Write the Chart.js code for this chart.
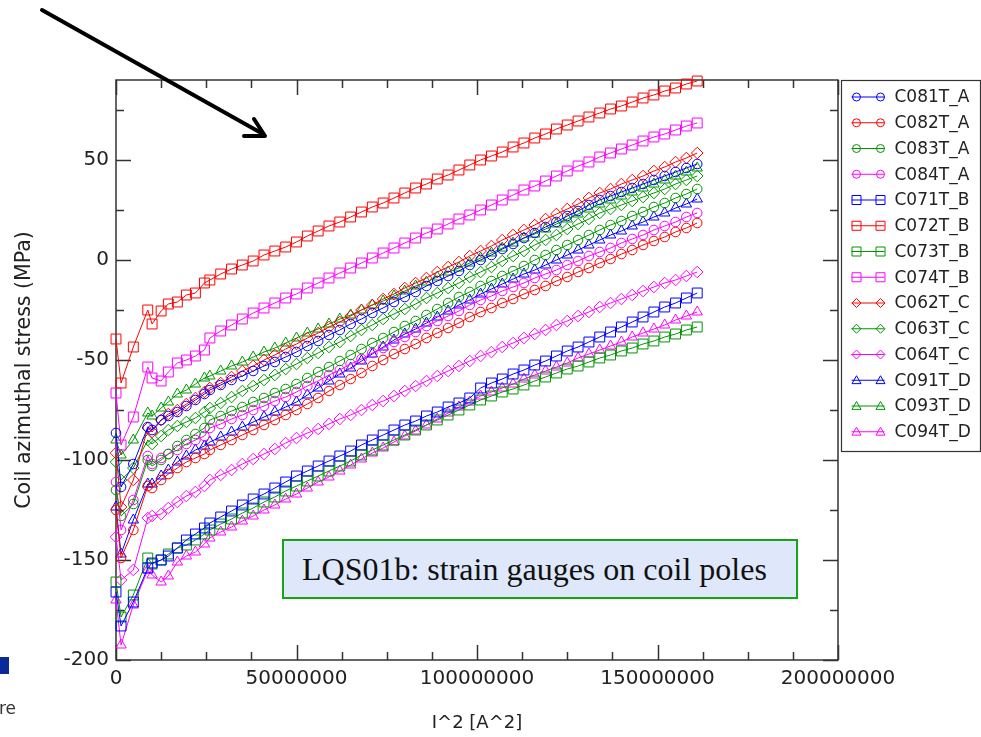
<!DOCTYPE html>
<html>
<head>
<meta charset="utf-8">
<script src="https://cdn.jsdelivr.net/npm/chart.js@4/dist/chart.umd.min.js"></script>
<style>
  body { margin: 0; background: #fff; }
  #wrap { position: relative; width: 981px; height: 737px; overflow: hidden; }
  #note {
    position: absolute; left: 282px; top: 539px; width: 494px; height: 56px;
    background: #dfe8fb; border: 2px solid #16a316;
    font-family: "Liberation Serif", "Times New Roman", serif; font-size: 32px; color: #111;
    display: flex; align-items: center; padding-left: 18px; box-sizing: content-box;
  }
  #blueMark { position: absolute; left: 0; top: 657px; width: 9px; height: 17px; background: #0a2a9c; }
  #cutText { position: absolute; left: -1px; top: 698px; font-family: "DejaVu Sans", sans-serif; font-size: 17px; color: #333; }
</style>
</head>
<body>
<div id="wrap">
  <canvas id="stressChart" width="981" height="737"></canvas>
  <div id="blueMark"></div>
  <div id="cutText">re</div>
  <div id="note">LQS01b: strain gauges on coil poles</div>
</div>
<script>
// ===== I^2 values (A^2) =====
const iSquared = [0, 1.4e6, 4.8e6, 8.8e6, 10e6, 12.5e6, 14.5e6, 17e6, 19.5e6, 22e6, 24.5e6,
    26e6, 29e6, 32e6, 35e6, 38e6, 41e6, 44e6, 47e6, 50e6, 53e6, 56e6, 59e6, 62e6, 65e6, 68e6,
    71e6, 74e6, 77e6, 80e6, 83e6, 86e6, 89e6, 92e6, 95e6, 98e6, 101e6, 104e6, 107e6, 110e6,
    113e6, 116e6, 119e6, 122e6, 125e6, 128e6, 131e6, 134e6, 137e6, 140e6, 143e6, 146e6, 149e6,
    152e6, 155e6, 158e6, 161e6];

// ===== Coil azimuthal stress (MPa), one array per gauge =====
const c081T_A = [-86.5, -113.5, -102, -83.5, -85, -80, -78, -76, -73, -70, -67,
    -65, -62.5, -60, -58, -55.5, -53, -51, -48.5, -46,
    -43, -40.5, -37.5, -35, -32, -29.5, -26.5, -24, -21,
    -18.5, -16, -13, -10.5, -8, -5.5, -2.5, 0,
    2.5, 5.5, 8, 11, 13.5, 16.5, 19, 22, 24.5, 27.5, 30,
    32, 34, 36, 38, 40, 42, 44, 46, 48];
const c082T_A = [-125, -149, -135, -113, -114, -110, -107, -104, -101, -99, -97,
    -95, -92.5, -90, -87.5, -85, -82.5, -80, -77.5, -75,
    -72, -69, -65.5, -62.5, -59.5, -56.5, -53, -50, -47,
    -44.5, -42, -39, -36.5, -34, -31.5, -28.5, -26,
    -24, -21.5, -19.5, -17, -15, -13, -10.5, -8.5, -6, -4, -1.5,
    0.5, 3, 5, 7.5, 9.5, 11.5, 14, 16, 18.5];
const c083T_A = [-115, -128, -122, -100, -103, -100, -97, -93, -90, -87, -84,
    -80, -78, -75.5, -73.5, -71, -69, -66.5, -64.5, -62,
    -59, -56, -53.5, -50.5, -47.5, -44.5, -41.5, -39, -36,
    -33, -30.5, -27.5, -24.5, -21.5, -18.5, -16, -13,
    -10.5, -8, -5.5, -3, 0, 2.5, 5, 7.5, 10, 12.5, 15,
    17.5, 19.5, 22, 24, 26.5, 28.5, 31, 33, 35.5];
const c084T_A = [-111, -135, -120, -98, -102, -99, -97, -95, -92, -90, -88,
    -84, -82, -79.5, -77.5, -75, -73, -70.5, -68.5, -66,
    -63, -60.5, -57.5, -55, -52, -49.5, -46.5, -44, -41,
    -38.5, -36, -33, -30.5, -28, -25.5, -22.5, -20,
    -18, -15.5, -13.5, -11.5, -9, -7, -5, -2.5, -0.5, 2, 4,
    6, 8.5, 10.5, 12.5, 15, 17, 19, 21.5, 23.5];
const c071T_B = [-166, -183, -171, -154, -151.5, -150, -148, -144, -140, -137, -134,
    -131.5, -128.5, -125.5, -122.5, -119.5, -117, -114, -111, -108,
    -105.5, -103, -100.5, -98, -95.5, -92.5, -90, -87.5, -85,
    -82.5, -80.5, -78, -76, -73.5, -71.5, -69, -64,
    -61.5, -59.5, -57, -55, -52.5, -50.5, -48, -45.5, -43.5, -41, -38.5,
    -36, -33.5, -31, -28.5, -26, -23.5, -21.5, -19, -16.5];
const c072T_B = [-39.5, -61.5, -43.5, -25, -32, -25.5, -22, -21, -17.5, -16.5, -11.5,
    -10, -7, -4.5, -2.5, -0.5, 2.5, 4.5, 6.5, 9,
    12, 14.5, 17, 19, 21.5, 24, 26.5, 28.5, 31,
    33.5, 36, 38, 40.5, 42.5, 45, 47.5, 50,
    52, 54, 56.5, 58.5, 61, 63, 65.5, 67.5, 69.5, 71.5, 73.5,
    75.5, 77, 79, 81, 82.5, 84.5, 86, 88, 89.5];
const c073T_B = [-161, -178.5, -167.5, -149, -152, -150, -147, -144, -142.5, -140, -137,
    -135, -132, -129.5, -126.5, -124, -121, -118.5, -115.5, -113,
    -110.5, -108, -105.5, -103, -100.5, -97.5, -95, -92.5, -90,
    -87.5, -85, -82.5, -80, -77.5, -75, -72.5, -70,
    -68, -66, -64.5, -62.5, -60.5, -58.5, -56.5, -54.5, -53, -51, -49,
    -47.5, -45.5, -44, -42, -40.5, -38.5, -37, -35, -33.5];
const c074T_B = [-66.5, -92.5, -78.5, -53.5, -59, -60.5, -56, -51.5, -50, -48, -45,
    -39, -35.5, -32.5, -29.5, -26.5, -24, -21.5, -19, -17,
    -14, -11.5, -9, -6.5, -4, -1.5, 1, 3.5, 6,
    8.5, 11, 13.5, 15.5, 18, 20.5, 22.5, 25,
    27.5, 30, 32.5, 35, 37, 39.5, 42, 44.5, 47, 49, 51.5,
    53.5, 55.5, 57.5, 59.5, 61.5, 63, 65, 67, 68.5];
const c062T_C = [-96.5, -123.5, -110, -84, -86, -80, -77, -75, -72, -69, -66,
    -64, -61.5, -58.5, -55.5, -53, -50, -47.5, -44.5, -42,
    -39, -36.5, -33.5, -31, -28, -25, -22.5, -19.5, -17,
    -14, -11.5, -9, -6, -3.5, -1, 2, 4.5,
    7, 10, 12.5, 15, 17.5, 20.5, 23, 25.5, 28, 31, 33.5,
    35.5, 38, 40, 42, 44.5, 46.5, 49, 51, 53.5];
const c063T_C = [-101, -110, -104, -90, -92, -88, -85, -83, -81, -79, -76,
    -74, -71.5, -68.5, -65.5, -63, -60, -57.5, -54.5, -52,
    -49, -46.5, -43.5, -41, -38, -35, -32.5, -29.5, -27,
    -24.5, -22, -19, -16.5, -14, -11.5, -8.5, -6,
    -3.5, -0.5, 2, 4.5, 7.5, 10, 12.5, 15.5, 18, 20.5, 23.5,
    25.5, 27.5, 29.5, 31.5, 33.5, 35.5, 38, 40, 42];
const c064T_C = [-138.5, -160, -155, -129, -128, -127, -124, -121, -118, -116, -113,
    -110, -107.5, -105, -102, -99.5, -97, -94.5, -91.5, -89,
    -86.5, -84.5, -82, -79.5, -77.5, -75, -72.5, -70.5, -68,
    -65.5, -63, -60.5, -58, -55.5, -53, -50.5, -48,
    -46, -43.5, -41.5, -39, -37, -35, -32.5, -30.5, -28, -26, -23.5,
    -21.5, -19.5, -17.5, -15.5, -13.5, -11.5, -10, -8, -6];
const c091T_D = [-123.5, -147, -130, -112, -112, -108, -105, -101, -98, -95, -93,
    -91, -88.5, -86, -83.5, -81, -78.5, -76, -73.5, -71,
    -67.5, -64, -60.5, -57, -54, -50.5, -47, -43.5, -40,
    -37, -34.5, -31.5, -28.5, -25.5, -22.5, -20, -17,
    -14.5, -12, -9.5, -7, -5, -2.5, 0, 2.5, 5, 7.5, 10,
    12.5, 14.5, 17, 19, 21.5, 23.5, 26, 28, 30.5];
const c093T_D = [-90, -97.5, -90, -76.5, -78, -74, -71, -67, -65, -62, -59,
    -58, -55.5, -53, -51, -48.5, -46, -44, -41.5, -39,
    -36.5, -34.5, -32, -29.5, -27.5, -25, -22.5, -20.5, -18,
    -15.5, -13, -11, -8.5, -6, -4, -1.5, 1,
    3.5, 6, 8.5, 11, 13, 15.5, 18, 20.5, 23, 25.5, 28,
    30, 32, 34, 36, 38, 40, 42, 44, 46];
const c094T_D = [-170, -192.5, -172.5, -155, -157.5, -161, -158, -151, -148, -146, -142,
    -139, -136, -133.5, -130.5, -128, -125, -122.5, -119.5, -117,
    -114, -111, -108.5, -105.5, -102.5, -99.5, -96.5, -94, -91,
    -88, -85.5, -82.5, -79.5, -76.5, -73.5, -71, -68,
    -66, -64, -62, -59.5, -57.5, -55.5, -53.5, -51.5, -49, -47, -45,
    -43, -41, -38.5, -36.5, -34.5, -32.5, -30, -28, -26];

const seriesNames = ['C081T_A', 'C082T_A', 'C083T_A', 'C084T_A', 'C071T_B', 'C072T_B', 'C073T_B',
    'C074T_B', 'C062T_C', 'C063T_C', 'C064T_C', 'C091T_D', 'C093T_D', 'C094T_D'];
const seriesValues = [c081T_A, c082T_A, c083T_A, c084T_A, c071T_B, c072T_B, c073T_B,
    c074T_B, c062T_C, c063T_C, c064T_C, c091T_D, c093T_D, c094T_D];

// ===== Styles =====
const BLUE = '#0000ff', RED = '#ff0000', GREEN = '#009600', MAGENTA = '#ff00ff';
const seriesColors = [BLUE, RED, GREEN, MAGENTA, BLUE, RED, GREEN, MAGENTA, RED, GREEN, MAGENTA, BLUE, GREEN, MAGENTA];
const seriesMarkers = ['circle', 'circle', 'circle', 'circle', 'rect', 'rect', 'rect', 'rect',
    'rectRot', 'rectRot', 'rectRot', 'triangle', 'triangle', 'triangle'];
const markerRadius = { circle: 4.8, rect: 7, rectRot: 5.8, triangle: 6 };
const TEXT = '#222';
const FONT = '"DejaVu Sans", "Liberation Sans", sans-serif';

const datasets = seriesNames.map((name, i) => ({
    label: name,
    data: iSquared.map((x, j) => ({ x, y: seriesValues[i][j] })),
    borderColor: seriesColors[i],
    backgroundColor: 'rgba(0,0,0,0)',
    borderWidth: 1,
    pointStyle: seriesMarkers[i],
    pointRadius: markerRadius[seriesMarkers[i]],
    pointBorderWidth: 1,
    pointBorderColor: seriesColors[i],
    pointBackgroundColor: 'rgba(0,0,0,0)',
    tension: 0,
    clip: false
}));

// ===== Frame with inward ticks on all four sides =====
const frameTicks = {
    id: 'frameTicks',
    beforeDatasetsDraw(chart) {
        const { ctx, chartArea: a, scales: { x, y } } = chart;
        ctx.save();
        ctx.strokeStyle = '#333';
        ctx.lineWidth = 1.5;
        ctx.strokeRect(a.left, a.top, a.right - a.left, a.bottom - a.top);
        ctx.beginPath();
        for (let v = x.min; v <= x.max; v += 12.5e6) {
            const px = Math.round(x.getPixelForValue(v)) + 0.5;
            const len = v % 50e6 === 0 ? 15 : 8;
            ctx.moveTo(px, a.bottom); ctx.lineTo(px, a.bottom - len);
            ctx.moveTo(px, a.top); ctx.lineTo(px, a.top + len);
        }
        for (let v = y.min; v <= y.max; v += 25) {
            const py = Math.round(y.getPixelForValue(v)) + 0.5;
            const len = v % 50 === 0 ? 15 : 8;
            ctx.moveTo(a.left, py); ctx.lineTo(a.left + len, py);
            ctx.moveTo(a.right, py); ctx.lineTo(a.right - len, py);
        }
        ctx.stroke();
        ctx.restore();
    }
};

// ===== Legend box (line with a marker at each end) =====
function drawMarker(ctx, style, r, cx, cy) {
    ctx.beginPath();
    if (style === 'circle') {
        ctx.arc(cx, cy, r, 0, Math.PI * 2);
    } else if (style === 'rect') {
        ctx.rect(cx - r, cy - r, 2 * r, 2 * r);
    } else if (style === 'rectRot') {
        ctx.moveTo(cx, cy - r); ctx.lineTo(cx + r, cy); ctx.lineTo(cx, cy + r); ctx.lineTo(cx - r, cy); ctx.closePath();
    } else {
        ctx.moveTo(cx, cy - r); ctx.lineTo(cx + r, cy + r * 0.75); ctx.lineTo(cx - r, cy + r * 0.75); ctx.closePath();
    }
    ctx.stroke();
}

const legendBox = {
    id: 'legendBox',
    afterDraw(chart) {
        const ctx = chart.ctx;
        const left = chart.chartArea.right + 3.5, top = chart.chartArea.top + 0.5;
        ctx.save();
        ctx.fillStyle = '#fff';
        ctx.fillRect(left, top, 139, 371);
        ctx.strokeStyle = '#333';
        ctx.lineWidth = 1.2;
        ctx.strokeRect(left, top, 139, 371);
        ctx.font = '17px ' + FONT;
        ctx.textBaseline = 'middle';
        chart.data.datasets.forEach((ds, i) => {
            const cy = top + 16.5 + i * 25.75;
            ctx.strokeStyle = ds.borderColor;
            ctx.lineWidth = 1;
            ctx.beginPath();
            ctx.moveTo(left + 10, cy); ctx.lineTo(left + 43, cy);
            ctx.stroke();
            const r = ds.pointStyle === 'circle' ? 4 : 4.5;
            drawMarker(ctx, ds.pointStyle, r, left + 15, cy);
            drawMarker(ctx, ds.pointStyle, r, left + 39, cy);
            ctx.fillStyle = TEXT;
            ctx.fillText(ds.label, left + 53, cy + 1);
        });
        ctx.restore();
    }
};

// ===== Pointer arrow =====
const pointerArrow = {
    id: 'pointerArrow',
    afterDraw(chart) {
        const ctx = chart.ctx;
        ctx.save();
        ctx.strokeStyle = '#000';
        ctx.lineWidth = 4;
        ctx.lineCap = 'round';
        ctx.lineJoin = 'round';
        ctx.beginPath();
        ctx.moveTo(42, 10); ctx.lineTo(263, 134);
        ctx.moveTo(244, 136); ctx.lineTo(265, 136); ctx.lineTo(254, 119);
        ctx.stroke();
        ctx.restore();
    }
};

new Chart(document.getElementById('stressChart'), {
    type: 'line',
    data: { datasets },
    options: {
        responsive: false,
        animation: false,
        devicePixelRatio: 1,
        layout: { padding: { top: 80, right: 143, left: 0, bottom: 0 } },
        plugins: { legend: { display: false }, tooltip: { enabled: false } },
        scales: {
            x: {
                type: 'linear', min: 0, max: 200e6,
                grid: { display: false, drawTicks: false },
                border: { display: false },
                ticks: { stepSize: 50e6, padding: 7, color: TEXT, maxRotation: 0, autoSkip: false,
                    font: { family: FONT, size: 20 }, callback: v => String(v) },
                title: { display: true, text: 'I^2 [A^2]', color: TEXT, font: { family: FONT, size: 18 },
                    padding: { top: 0, bottom: 3 } },
                afterFit: s => { s.height = 77; }
            },
            y: {
                min: -200, max: 90,
                grid: { display: false, drawTicks: false },
                border: { display: false },
                ticks: { stepSize: 50, padding: 7, color: TEXT, font: { family: FONT, size: 20 },
                    callback: v => String(v) },
                afterBuildTicks: s => { s.ticks = s.ticks.filter(t => t.value % 50 === 0); },
                title: { display: true, text: 'Coil azimuthal stress (MPa)', color: TEXT,
                    font: { family: FONT, size: 20.5 }, padding: { top: 12, bottom: 0 } },
                afterFit: s => { s.width = 116; }
            }
        }
    },
    plugins: [frameTicks, legendBox, pointerArrow]
});
</script>
</body>
</html>
